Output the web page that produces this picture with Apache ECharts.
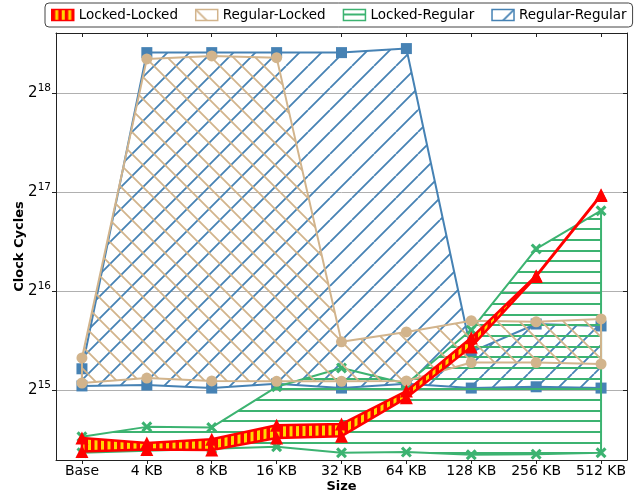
<!DOCTYPE html>
<html>
<head>
<meta charset="utf-8">
<script src="https://cdn.jsdelivr.net/npm/echarts@6/dist/echarts.min.js"></script>
<style>
  html, body { margin: 0; padding: 0; background: #fff; }
  #chart { width: 638px; height: 493px; }
</style>
</head>
<body>
<div id="chart"></div>
<script>
var sizes = ['Base', '4 KB', '8 KB', '16 KB', '32 KB', '64 KB', '128 KB', '256 KB', '512 KB'];
var yExps = [15, 16, 17, 18];

// clock cycles (upper / lower edge of each band)
var lockedLockedHi   = [23400, 22600, 23200, 25600, 25800, 32500, 47200, 72900, 128600];
var lockedLockedLo   = [21300, 21600, 21500, 23400, 23700, 31000, 44300, 72500, 128000];
var regularLockedHi  = [41000, 333000, 340000, 336000, 45900, 49200, 53200, 52800, 53900];
var regularLockedLo  = [34400, 35600, 34900, 34800, 34800, 34900, 39700, 39700, 39300];
var lockedRegularHi  = [23600, 25300, 25200, 33500, 38200, 34200, 49900, 88000, 115000];
var lockedRegularLo  = [21100, 21400, 21700, 22000, 21100, 21200, 20800, 20900, 21100];
var regularRegularHi = [38000, 348000, 348000, 348000, 348000, 358000, 42800, 52000, 51300];
var regularRegularLo = [33700, 33900, 33200, 34200, 33200, 34200, 33200, 33500, 33200];

var RED = '#ff0000', TAN = '#d2b48c', GREEN = '#3cb371', BLUE = '#4682b4';

function lg(v) { return Math.log(v) / Math.LN2; }
function pts(arr) { return arr.map(function (v, i) { return [i, lg(v)]; }); }

// hatch tiles
function hatch(kind, color, lw, w, h, bg) {
  var c = document.createElement('canvas');
  c.width = w; c.height = h;
  var g = c.getContext('2d');
  if (bg) { g.fillStyle = bg; g.fillRect(0, 0, w, h); }
  g.strokeStyle = color; g.fillStyle = color; g.lineWidth = lw;
  g.beginPath();
  var k;
  if (kind === '/') {
    for (k = -1; k <= 1; k++) { g.moveTo(k * w, h); g.lineTo(k * w + w, 0); }
  } else if (kind === '\\') {
    for (k = -1; k <= 1; k++) { g.moveTo(k * w, 0); g.lineTo(k * w + w, h); }
  } else if (kind === '-') {
    [5, 16, 27].forEach(function (y) { g.moveTo(0, y); g.lineTo(w, y); });
  }
  g.stroke();
  if (kind === '|') {
    g.fillRect(0, 0, 3.5, h);
    g.fillRect(6.5, 0, 3.5, h);
  }
  return { image: c, repeat: 'repeat' };
}

var redFill = hatch('|', RED, 1, 13, 13, '#ffd700');
var tanFill = hatch('\\', TAN, 1.8, 22, 22);
var greenFill = hatch('-', GREEN, 1.8, 32, 32);
var blueFill = hatch('/', BLUE, 1.8, 22, 22);

var xMark = 'path://M0,2L2,0L5,3L8,0L10,2L7,5L10,8L8,10L5,7L2,10L0,8L3,5Z';

function band(name, hi, lo, fill, stroke, width, z) {
  var poly = pts(hi).concat(pts(lo).reverse());
  return {
    name: name, type: 'custom', coordinateSystem: 'cartesian2d', z: z,
    silent: true, animation: false,
    itemStyle: { color: stroke },
    data: [[0, lg(hi[0])]],
    renderItem: function (params, api) {
      return {
        type: 'polygon',
        shape: { points: poly.map(function (p) { return api.coord(p); }) },
        style: { fill: fill, stroke: stroke, lineWidth: width, lineJoin: 'round' }
      };
    }
  };
}

function marks(name, arr, color, symbol, size, z) {
  return {
    name: name, type: 'line', data: pts(arr), z: z,
    symbol: symbol, symbolSize: size, showAllSymbol: true,
    lineStyle: { width: 0, opacity: 0 },
    itemStyle: { color: color, opacity: 1 },
    emphasis: { disabled: true }, silent: true, animation: false
  };
}

var series = [
  band('Regular-Regular', regularRegularHi, regularRegularLo, blueFill, BLUE, 2, 10),
  marks('Regular-Regular', regularRegularHi, BLUE, 'rect', 11, 11),
  marks('Regular-Regular', regularRegularLo, BLUE, 'rect', 11, 11),
  band('Locked-Regular', lockedRegularHi, lockedRegularLo, greenFill, GREEN, 2, 20),
  marks('Locked-Regular', lockedRegularHi, GREEN, xMark, 11, 21),
  marks('Locked-Regular', lockedRegularLo, GREEN, xMark, 11, 21),
  band('Regular-Locked', regularLockedHi, regularLockedLo, tanFill, TAN, 2, 30),
  marks('Regular-Locked', regularLockedHi, TAN, 'circle', 11, 31),
  marks('Regular-Locked', regularLockedLo, TAN, 'circle', 11, 31),
  band('Locked-Locked', lockedLockedHi, lockedLockedLo, redFill, RED, 2.5, 40),
  marks('Locked-Locked', lockedLockedHi, RED, 'triangle', 13, 41),
  marks('Locked-Locked', lockedLockedLo, RED, 'triangle', 13, 41)
];

var xTicks = sizes.map(function (s, i) { return i; });
var font = 'DejaVu Sans';

var chart = echarts.init(document.getElementById('chart'));
chart.setOption({
  animation: false,
  textStyle: { fontFamily: font },
  legend: {
    left: 45, top: 3,
    padding: [5, 6],
    itemGap: 17, itemWidth: 22, itemHeight: 11,
    borderColor: '#444', borderWidth: 1, borderRadius: 4,
    textStyle: { fontSize: 13.5, color: '#000', fontFamily: font },
    selectedMode: false,
    data: [
      { name: 'Locked-Locked', icon: 'rect', itemStyle: { color: redFill, borderColor: RED, borderWidth: 1.5 } },
      { name: 'Regular-Locked', icon: 'rect', itemStyle: { color: tanFill, borderColor: TAN, borderWidth: 1.5 } },
      { name: 'Locked-Regular', icon: 'rect', itemStyle: { color: greenFill, borderColor: GREEN, borderWidth: 1.5 } },
      { name: 'Regular-Regular', icon: 'rect', itemStyle: { color: blueFill, borderColor: BLUE, borderWidth: 1.5 } }
    ]
  },
  grid: { left: 56, right: 11, top: 33, bottom: 33, containLabel: false, outerBoundsMode: 'none' },
  xAxis: [{
    type: 'value', min: -0.4, max: 8.4,
    name: 'Size', nameLocation: 'middle', nameGap: 20, nameMoveOverlap: false,
    nameTextStyle: { fontWeight: 'bold', fontSize: 13, color: '#000', fontFamily: font },
    axisLine: { onZero: false, lineStyle: { color: '#222', width: 1 } },
    axisTick: { customValues: xTicks, length: 4, lineStyle: { color: '#222' } },
    axisLabel: {
      customValues: xTicks, margin: 4, fontSize: 14, color: '#000',
      formatter: function (v) { return sizes[Math.round(v)]; }
    },
    splitLine: { show: false }
  }, {
    type: 'value', min: -0.4, max: 8.4, position: 'top',
    axisLine: { onZero: false, lineStyle: { color: '#222', width: 1 } },
    axisTick: { customValues: xTicks, inside: true, length: 4, lineStyle: { color: '#222' } },
    axisLabel: { show: false },
    splitLine: { show: false }
  }],
  yAxis: [{
    type: 'value', min: 14.292, max: 18.607,
    name: 'Clock Cycles', nameLocation: 'middle', nameGap: 30, nameRotate: 90, nameMoveOverlap: false,
    nameTextStyle: { fontWeight: 'bold', fontSize: 13, color: '#000', fontFamily: font },
    axisLine: { onZero: false, lineStyle: { color: '#222', width: 1 } },
    axisTick: { customValues: yExps, length: 4, lineStyle: { color: '#222' } },
    axisLabel: {
      customValues: yExps, margin: 5, color: '#000',
      formatter: function (v) { return '{b|2}{s|' + Math.round(v) + '}'; },
      rich: {
        b: { fontSize: 15, color: '#000', fontFamily: font },
        s: { fontSize: 10.5, color: '#000', fontFamily: font, verticalAlign: 'top', padding: [0, 0, 9, 0] }
      }
    },
    splitLine: { show: true, lineStyle: { color: '#b0b0b0', width: 1 } }
  }, {
    type: 'value', min: 14.292, max: 18.607, position: 'right',
    axisLine: { onZero: false, lineStyle: { color: '#222', width: 1 } },
    axisTick: { customValues: yExps, inside: true, length: 4, lineStyle: { color: '#222' } },
    axisLabel: { show: false },
    splitLine: { show: false }
  }],
  series: series
});
window.addEventListener('resize', function () { chart.resize(); });
</script>
</body>
</html>
